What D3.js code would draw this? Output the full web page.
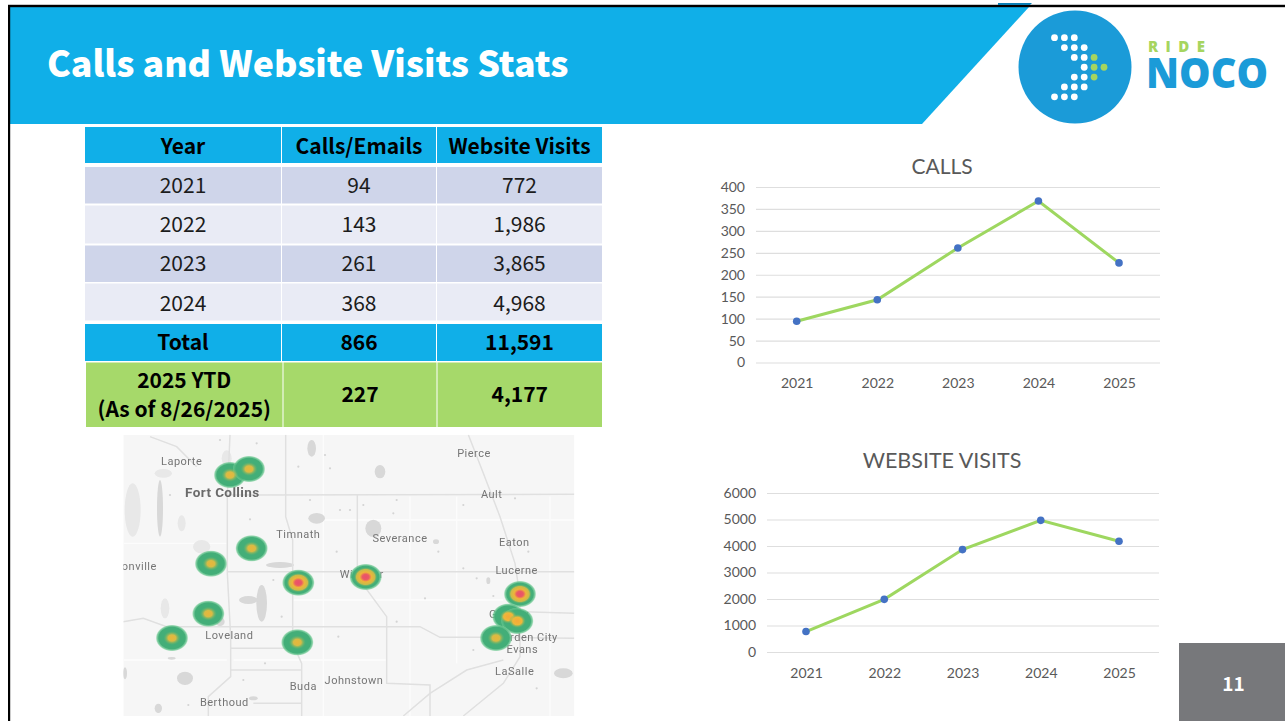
<!DOCTYPE html>
<html><head><meta charset="utf-8">
<style>html,body{margin:0;padding:0;background:#fff;overflow:hidden}svg{display:block}</style>
<script src="https://cdn.jsdelivr.net/npm/d3@7/dist/d3.min.js"></script></head>
<body><svg id="c" width="1285" height="721"></svg>
<script>
// ---------- data ----------
const years = ["2021","2022","2023","2024","2025"];
const callsValues = [94,143,261,368,227];
const visitValues = [772,1986,3865,4968,4177];
const callTicks = [0,50,100,150,200,250,300,350,400];
const visitTicks = [0,1000,2000,3000,4000,5000,6000];
const tableHead = ["Year","Calls/Emails","Website Visits"];
const tableYears = ["2021","2022","2023","2024"];
const tableCalls = ["94","143","261","368"];
const tableVisits = ["772","1,986","3,865","4,968"];
const tableTotal = ["Total","866","11,591"];
const tableYtd = ["227","4,177"];
// heat spots on the map: [map x, map y, intensity level]
const heatSpots = [[360,135,1],[417,117,1],[425,355,1],[303,401,1],[565,458,2],[767,441,2],[295,551,1],[186,624,1],[562,637,1],[1230,492,2],[1195,560,1.4],[1222,573,1.4],[1158,624,1]];
const placeNames = [["Laporte",215,92],["Pierce",1092,70],["Ault",1145,191],["Timnath",565,312],["Severance",870,324],["Eaton",1213,336],["onville",88,407],["Windsor",755,431],["Lucerne",1220,421],["Greeley",1197,553],["Garden City",1250,621],["Evans",1237,658],["LaSalle",1214,723],["Loveland",358,616],["Johnstown",732,749],["Buda",580,768],["Berthoud",343,815]];
const majorRoads = [
 [[527,14],[527,260],[548,330],[548,640],[575,700],[575,858]],
 [[360,14],[352,200],[352,430],[362,620],[362,740],[295,800],[295,858]],
 [[352,195],[1393,193]],[[352,425],[1393,425]],
 [[742,195],[742,440],[830,560],[830,760],[960,765],[960,858]],
 [[40,575],[100,565],[170,590],[930,590],[990,622],[1150,622],[1393,625]],
 [[1075,14],[1120,130],[1170,260],[1215,400],[1230,500],[1230,680],[1180,760],[1060,858]],
 [[1240,545],[1393,550]],[[362,655],[548,655]],[[362,720],[575,720]],[[430,820],[575,820]],
 [[880,858],[960,790],[1070,720],[1180,690]],[[120,20],[200,50],[260,110]]
];
const minorRoads = [[[40,340],[350,340]],[[600,270],[1393,270]],[[640,14],[640,858]],[[900,200],[900,858]],[[1040,200],[1040,700]],[[550,510],[1180,510]],[[370,690],[830,690]],[[40,690],[350,690]],[[1320,200],[1320,858]]];
const waterBlobs = [[605,55,13,25],[810,125,16,20],[620,265,25,16],[790,295,24,26],[455,520,16,55],[415,510,28,12],[510,405,42,9],[150,235,9,85],[225,745,24,20],[1360,730,28,15],[45,730,6,18],[145,835,11,14],[1135,452,6,10],[978,335,9,7],[185,685,12,4],[430,805,13,6],[330,575,14,13]];
const faintBlobs = [[68,240,24,80],[275,350,26,20],[215,280,12,24],[160,130,26,13],[165,535,13,30],[350,85,15,24]];
const specks = [[565,110],[660,115],[600,210],[860,210],[690,240],[720,240],[850,250],[1060,225],[1215,205],[680,365],[985,365],[760,225],[1060,415],[1100,445],[945,505],[860,575],[685,620],[1090,660],[465,700],[400,750],[1280,775],[235,825],[515,560],[490,450],[1150,498],[1255,365],[420,268],[180,195],[645,75],[440,40],[330,30]];
// logo dot rows: [offset in dot steps from the left column, count white, count green]
const logoRows = [[0,3,0],[1,3,0],[2,2,1],[3,1,2],[2,2,1],[1,3,0],[0,3,0]];

const svg = d3.select("#c");
const defs = svg.append("defs");
const BLUE="#10afe8", GREEN="#a6d96a", CJK="'Noto Sans CJK JP','Noto Sans',sans-serif", CHART="Lato,'Noto Sans',sans-serif";

// ---------- frame and header ----------
svg.append("rect").attr("x",8).attr("y",4).attr("width",1277).attr("height",1).attr("fill","#c8c8c8");
svg.append("polygon").attr("points","998,3 1032,3 1030,5 998,5").attr("fill","#0a7fb5");
svg.append("polygon").attr("points","10,7 1029,7 922,124 10,124").attr("fill",BLUE);
svg.append("rect").attr("x",8).attr("y",5).attr("width",1277).attr("height",2.2).attr("fill","#000");
svg.append("rect").attr("x",8).attr("y",5).attr("width",2.2).attr("height",716).attr("fill","#000");
svg.append("text").attr("x",47).attr("y",77).attr("fill","#fff").attr("font-family",CJK).attr("font-weight",900).attr("font-size",35.7).text("Calls and Website Visits Stats");

// ---------- logo ----------
const logo = svg.append("g");
logo.append("circle").attr("cx",1075).attr("cy",67).attr("r",56.5).attr("fill","#1b9bd8");
logoRows.forEach((r,i)=>{
  for(let k=0;k<r[1]+r[2];k++){
    logo.append("circle").attr("cx",1054.5+(r[0]+k)*9.9).attr("cy",37.7+i*9.85).attr("r",3.4)
      .attr("fill",k<r[1]?"#fff":"#a6d55f");
  }
});
logo.append("text").attr("x",1148).attr("y",52).attr("font-family","'Open Sans',sans-serif").attr("font-weight",800).attr("font-size",15).attr("textLength",57).attr("fill","#a6d55f").text("RIDE");
logo.append("text").attr("x",1146).attr("y",88).attr("font-family","'Open Sans',sans-serif").attr("font-weight",800).attr("font-size",42).attr("textLength",122).attr("lengthAdjust","spacingAndGlyphs").attr("fill","#1b9bd8").text("NOCO");

// ---------- table ----------
const colX = [[85,281],[282,436],[437,602]];
const ytdX = [[86,282.5],[283.5,436.5],[437.5,602]];
const rowY = {head:[127,163],r:[[167,203.5],[205.5,243.5],[245.5,282],[283.5,320.5]],total:[324,361],ytd:[362.5,427]};
const table = svg.append("g");
function cell(x,y,fill,lines,bold,nudge){
  table.append("rect").attr("x",x[0]).attr("y",y[0]).attr("width",x[1]-x[0]).attr("height",y[1]-y[0]).attr("fill",fill);
  const cy=(y[0]+y[1])/2+(nudge||0), lh=29;
  lines.forEach((t,i)=>table.append("text").attr("x",(x[0]+x[1])/2).attr("y",cy+(i-(lines.length-1)/2)*lh)
    .attr("dy","0.36em").attr("text-anchor","middle").attr("font-family",CJK).attr("font-weight",bold?700:400)
    .attr("font-size",21).attr("fill",bold?"#000":"#1c1c1c").text(t));
}
tableHead.forEach((t,i)=>cell(colX[i],rowY.head,BLUE,[t],true,1));
tableYears.forEach((y,j)=>{
  const f=j%2?"#e9ebf5":"#cfd5ea";
  [y,tableCalls[j],tableVisits[j]].forEach((t,i)=>cell(colX[i],rowY.r[j],f,[t],false,j===3?1:0));
});
tableTotal.forEach((t,i)=>cell(colX[i],rowY.total,BLUE,[t],true));
cell(ytdX[0],rowY.ytd,GREEN,["2025 YTD","(As of 8/26/2025)"],true);
tableYtd.forEach((t,i)=>cell(ytdX[i+1],rowY.ytd,GREEN,[t],true));

// ---------- map ----------
const mx=d3.scaleLinear().domain([0,1440]).range([110,590]);
const my=d3.scaleLinear().domain([0,873]).range([430,721]);
defs.append("clipPath").attr("id","mapClip").append("rect").attr("x",mx(40)).attr("y",my(14)).attr("width",mx(1393)-mx(40)).attr("height",my(858)-my(14));
const soft=defs.append("filter").attr("id","soft").attr("x","-5%").attr("y","-5%").attr("width","110%").attr("height","110%");
soft.append("feGaussianBlur").attr("stdDeviation",0.5);
const map=svg.append("g").attr("clip-path","url(#mapClip)");
map.append("rect").attr("x",mx(40)).attr("y",my(14)).attr("width",mx(1393)-mx(40)).attr("height",my(858)-my(14)).attr("fill","#f6f6f6");
const base=map.append("g").attr("filter","url(#soft)");
const roadLine=d3.line().x(d=>mx(d[0])).y(d=>my(d[1]));
base.selectAll(".mn").data(minorRoads).join("path").attr("d",roadLine).attr("fill","none").attr("stroke","#fcfcfc").attr("stroke-width",1.4);
base.selectAll(".fb").data(faintBlobs).join("ellipse").attr("cx",d=>mx(d[0])).attr("cy",d=>my(d[1])).attr("rx",d=>d[2]/3).attr("ry",d=>d[3]/3).attr("fill","#e8e8e8");
base.selectAll(".wb").data(waterBlobs).join("ellipse").attr("cx",d=>mx(d[0])).attr("cy",d=>my(d[1])).attr("rx",d=>d[2]/3).attr("ry",d=>d[3]/3).attr("fill","#d8d8d8");
base.selectAll(".sp").data(specks).join("circle").attr("cx",d=>mx(d[0])).attr("cy",d=>my(d[1])).attr("r",1.1).attr("fill","#d4d4d4");
base.selectAll(".mj").data(majorRoads).join("path").attr("d",roadLine).attr("fill","none").attr("stroke","#e0e0e0").attr("stroke-width",1.5);
base.selectAll(".pn").data(placeNames).join("text").attr("x",d=>mx(d[1])).attr("y",d=>my(d[2])).attr("dy","0.35em").attr("text-anchor","middle")
  .attr("font-family","Roboto,sans-serif").attr("font-size",11).attr("letter-spacing",0.5).attr("fill","#757575").text(d=>d[0]);
base.append("text").attr("x",mx(337)).attr("y",my(186)).attr("dy","0.35em").attr("text-anchor","middle").attr("font-family","Roboto,sans-serif").attr("font-weight",700).attr("font-size",13.5).attr("letter-spacing",0.4).attr("fill","#6a6a6a").text("Fort Collins");
// heat: green halo layer first so neighbouring spots merge, then the cores
const halo=defs.append("radialGradient").attr("id","halo");
[[0,"#43ae78",1],[0.8,"#43ae78",1],[0.92,"#62c48a",0.7],[1,"#a8e4b8",0]].forEach(s=>halo.append("stop").attr("offset",s[0]).attr("stop-color",s[1]).attr("stop-opacity",s[2]));
const coreStops={
  1:[[0,"#e8b63a",1],[0.45,"#d8bb45",1],[1,"#62b56e",0]],
  1.4:[[0,"#f6a938",1],[0.55,"#eeb83a",1],[1,"#62b56e",0]],
  2:[[0,"#ea4f6c",1],[0.28,"#ea5a64",1],[0.5,"#eeb53a",1],[0.78,"#c8bb4a",1],[1,"#4dae74",0]]
};
const coreMeta={};
Object.keys(coreStops).forEach((k,i)=>{
  const g=defs.append("radialGradient").attr("id","core"+i);
  coreStops[k].forEach(s=>g.append("stop").attr("offset",s[0]).attr("stop-color",s[1]).attr("stop-opacity",s[2]));
  coreMeta[k]={id:"core"+i,scale:k==="2"?0.72:0.52};
});
map.append("g").selectAll("ellipse").data(heatSpots).join("ellipse").attr("cx",d=>mx(d[0])).attr("cy",d=>my(d[1])).attr("rx",16.5).attr("ry",13.5)
  .attr("fill","url(#halo)");
map.append("g").selectAll("ellipse").data(heatSpots).join("ellipse").attr("cx",d=>mx(d[0])).attr("cy",d=>my(d[1]))
  .attr("rx",d=>16.5*coreMeta[d[2]].scale).attr("ry",d=>13.5*coreMeta[d[2]].scale)
  .attr("fill",d=>"url(#"+coreMeta[d[2]].id+")");

// ---------- line charts ----------
function lineChart(o){
  const g=svg.append("g");
  const x=d3.scalePoint().domain(years).range(o.xr);
  const y=d3.scaleLinear().domain([0,o.max]).range(o.yr);
  const gridAxis=d3.axisLeft(y).tickValues(o.ticks).tickSize(-(o.gx[1]-o.gx[0])).tickPadding(11).tickFormat(d3.format("d"));
  const ya=g.append("g").attr("transform",`translate(${o.gx[0]},0)`).call(gridAxis);
  ya.select(".domain").remove();
  ya.selectAll("line").attr("stroke","#dedede").attr("stroke-width",1.2);
  ya.selectAll("text").attr("font-family",CHART).attr("font-size",14).attr("fill","#595959");
  const xa=g.append("g").attr("transform",`translate(0,${o.yr[0]})`).call(d3.axisBottom(x).tickSize(0).tickPadding(o.xpad));
  xa.select(".domain").remove();
  xa.selectAll("text").attr("font-family",CHART).attr("font-size",14).attr("fill","#595959");
  const line=d3.line().x((d,i)=>x(years[i])).y(d=>y(d));
  g.append("path").datum(o.values).attr("d",line).attr("fill","none").attr("stroke","#9ed760").attr("stroke-width",3);
  g.selectAll(".pt").data(o.values).join("circle").attr("cx",(d,i)=>x(years[i])).attr("cy",d=>y(d)).attr("r",3.8).attr("fill","#4472c4");
  g.append("text").attr("x",o.tx).attr("y",o.ty).attr("text-anchor","middle").attr("font-family",CHART).attr("font-size",o.ts).attr("fill","#595959").text(o.title);
}
lineChart({title:"CALLS",values:callsValues,ticks:callTicks,max:400,xr:[796.7,1119],yr:[362.5,187],gx:[756,1160],tx:942,ty:174,ts:21,xpad:16});
lineChart({title:"WEBSITE VISITS",values:visitValues,ticks:visitTicks,max:6000,xr:[806,1119],yr:[652,493],gx:[767,1159],tx:942,ty:468,ts:21.5,xpad:16});

// ---------- page number ----------
svg.append("rect").attr("x",1179).attr("y",643).attr("width",106).attr("height",78).attr("fill","#77787b");
svg.append("text").attr("x",1233.5).attr("y",684).attr("dy","0.36em").attr("text-anchor","middle").attr("font-family",CJK).attr("font-weight",700).attr("font-size",19).attr("fill","#fff").text("11");
</script></body></html>
